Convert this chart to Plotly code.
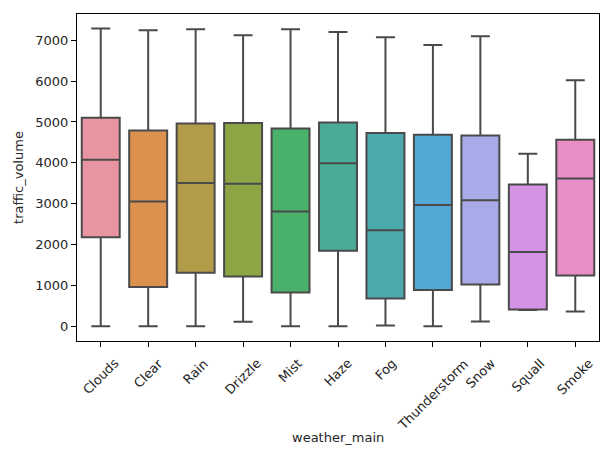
import plotly.graph_objects as go

categories = ["Clouds", "Clear", "Rain", "Drizzle", "Mist", "Haze", "Fog",
              "Thunderstorm", "Snow", "Squall", "Smoke"]
lower = [0, 0, 0, 106, 0, 0, 16, 0, 114, 393, 360]
q1 = [2175, 957, 1308, 1218, 826, 1848, 679, 883, 1022, 409, 1243]
median = [4073, 3050, 3508, 3484, 2805, 3991, 2347, 2969, 3083, 1815, 3615]
q3 = [5103, 4792, 4964, 4972, 4841, 4989, 4727, 4686, 4670, 3467, 4563]
upper = [7287, 7246, 7270, 7123, 7270, 7205, 7074, 6886, 7098, 4220, 6019]
colors = ["#e995a1", "#dd914f", "#b29c4a", "#8ea545", "#4ab16b", "#4aab98",
          "#4ca9ae", "#53a9d3", "#a8abe8", "#d593e6", "#e78ec6"]
y_ticks = [0, 1000, 2000, 3000, 4000, 5000, 6000, 7000]

FONT = "DejaVu Sans"
LINE = "#4a4a4a"
TXT = "#262626"

fig = go.Figure()
for i, c in enumerate(categories):
    fig.add_trace(go.Box(
        x=[c], q1=[q1[i]], median=[median[i]], q3=[q3[i]],
        lowerfence=[lower[i]], upperfence=[upper[i]],
        fillcolor=colors[i], line=dict(color=LINE, width=2),
        width=0.8, whiskerwidth=0.5, boxpoints=False, showlegend=False,
    ))

# rotated, centred category labels (matplotlib style)
for c in categories:
    fig.add_annotation(x=c, xref="x", y=-12 / 327, yref="paper",
                       text=c, textangle=-45, showarrow=False,
                       xanchor="center", yanchor="top",
                       font=dict(family=FONT, size=13, color=TXT))
fig.add_annotation(x=0.5, xref="paper", y=(341 - 437) / 327, yref="paper",
                   text="weather_main", showarrow=False, xanchor="center",
                   yanchor="middle", font=dict(family=FONT, size=13, color=TXT))

# page body has an 8px margin, so the figure is shrunk to compensate
fig.update_layout(
    width=606, height=452,
    margin=dict(l=69, r=15, t=6, b=119),
    paper_bgcolor="white", plot_bgcolor="white",
    boxmode="overlay",
    font=dict(family=FONT, size=13, color=TXT),
    xaxis=dict(type="category", categoryorder="array", categoryarray=categories,
               range=[-0.5, 10.5], showticklabels=False, ticks="outside",
               ticklen=5, tickcolor="black", showgrid=False, zeroline=False,
               showline=True, linecolor="black", linewidth=1, mirror=True),
    yaxis=dict(range=[-364, 7644], tickvals=y_ticks, ticks="outside", ticklen=5,
               tickcolor="black", showgrid=False, zeroline=False, showline=True,
               linecolor="black", linewidth=1, mirror=True,
               title=dict(text="traffic_volume", standoff=8,
                          font=dict(family=FONT, size=13, color=TXT))),
)

fig.write_html("out.html")
